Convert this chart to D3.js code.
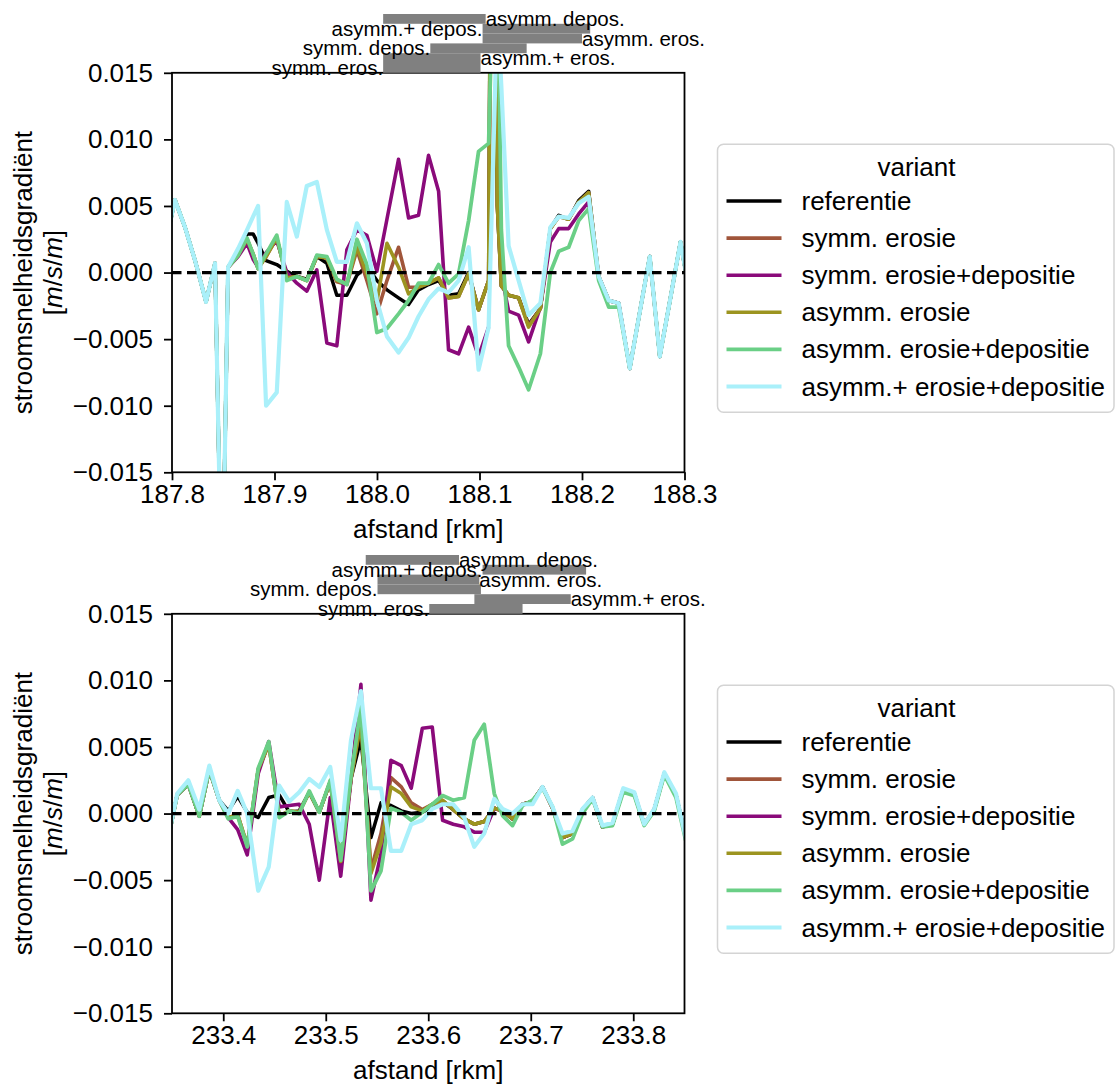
<!DOCTYPE html>
<html>
<head>
<meta charset="utf-8">
<script src="https://cdn.jsdelivr.net/npm/d3@7"></script>
<style>
  body { margin: 0; background: #ffffff; }
  svg text { font-family: "Liberation Sans", Arial, Helvetica, sans-serif; fill: #000; }
</style>
</head>
<body>
<svg id="chart" width="1120" height="1090"></svg>
<script>
// ---------------------------------------------------------------------------
// Variants (legend order = drawing order)
// ---------------------------------------------------------------------------
const variants = [
  "referentie",
  "symm. erosie",
  "symm. erosie+depositie",
  "asymm. erosie",
  "asymm. erosie+depositie",
  "asymm.+ erosie+depositie"
];
const variantColors = ["#000000", "#a0553a", "#8a0a7a", "#9c9420", "#6acf86", "#aaf0fa"];
const variantWidths = [3.5, 3.6, 3.6, 3.6, 3.8, 4.2];

// y axis (stroomsnelheidsgradiënt, m/s/m)
const yTicks = [-0.015, -0.010, -0.005, 0.000, 0.005, 0.010, 0.015];

// intervention zones drawn above each panel (bottom row first)
const zoneLabels = ["symm. eros.", "asymm.+ eros.", "symm. depos.", "asymm. eros.", "asymm.+ depos.", "asymm. depos."];
const zoneSides = ["left", "right", "left", "right", "left", "right"];

// ---------------------------------------------------------------------------
// Panel 1: rkm 187.8 - 188.3
// ---------------------------------------------------------------------------
const topTicks = [187.8, 187.9, 188.0, 188.1, 188.2, 188.3];
const topZoneStart = [188.006, 188.006, 188.052, 188.103, 188.103, 188.006];
const topZoneEnd   = [188.101, 188.101, 188.146, 188.200, 188.208, 188.106];

const topKm = [187.7932, 187.8029, 187.8127, 187.8225, 187.8332, 187.8420, 187.8488, 187.8547,
  187.8645, 187.8732, 187.8791, 187.8840, 187.8918, 187.9022, 187.9120, 187.9218, 187.9315,
  187.9413, 187.9511, 187.9608, 187.9706, 187.9804, 187.9901, 187.9999, 188.0097, 188.0210,
  188.0308, 188.0405, 188.0503, 188.0601, 188.0698, 188.0796, 188.0894, 188.0991, 188.1089,
  188.1125, 188.1174, 188.1213, 188.1284, 188.1382, 188.1479, 188.1594, 188.1691, 188.1773,
  188.1870, 188.1968, 188.2065, 188.2163, 188.2261, 188.2358, 188.2466, 188.2570, 188.2661,
  188.2759, 188.2863, 188.2961, 188.3059];

const topRef = [0.0020, 0.00545, 0.0034, 0.0009, -0.0022, 0.0007, -0.026, 0.0004,
  0.0015, 0.0029, 0.0029, 0.0022, 0.0009, 0.0006, 0.0001, -0.0003, -0.0005, 0.0012,
  0.0007, -0.0017, -0.0017, -0.0002, 0.0005, -0.0006, -0.0013, -0.0019, -0.0024, -0.0013,
  -0.0009, -0.0006, -0.0017, -0.0016, 0.0000, -0.0028, -0.0006, 0.050, 0.005, -0.0010,
  -0.0017, -0.0019, -0.0039, -0.0027, 0.0033, 0.0043, 0.0040, 0.0054, 0.0061,
  -0.0003, -0.0021, -0.0023, -0.0072, -0.0027, 0.0012, -0.0063, -0.0019, 0.0023, -0.0020];

const topSymEro = [0.0020, 0.00545, 0.0034, 0.0009, -0.0022, 0.0007, -0.026, 0.0004,
  0.0013, 0.0025, 0.0014, 0.0003, 0.0012, 0.0026, -0.0004, -0.0003, -0.0006, 0.0012,
  0.0011, -0.0007, -0.0009, 0.0017, -0.0006, -0.0031, -0.0006, 0.0019, -0.0011, -0.0011,
  -0.0008, -0.0004, -0.0019, -0.0018, -0.0001, -0.0028, -0.0006, 0.050, 0.005, -0.0010,
  -0.0017, -0.0019, -0.0040, -0.0027, 0.0033, 0.0042, 0.0040, 0.0053, 0.0060,
  -0.0003, -0.0021, -0.0023, -0.0072, -0.0027, 0.0012, -0.0063, -0.0019, 0.0023, -0.0020];

const topSymEroDep = [0.0020, 0.00545, 0.0034, 0.0009, -0.0022, 0.0007, -0.026, 0.0004,
  0.0012, 0.0022, 0.0010, 0.0004, 0.0015, 0.0024, 0.0000, -0.0008, -0.0014, 0.0002,
  -0.0053, -0.0055, 0.0017, 0.0032, 0.0028, 0.0001, 0.0040, 0.0085, 0.0041, 0.0043,
  0.0088, 0.0061, -0.0058, -0.0061, -0.0041, -0.0063, -0.0041, NaN, NaN, -0.0001,
  -0.0029, -0.0032, -0.0052, -0.0026, 0.0023, 0.0033, 0.0033, 0.0044, 0.0053,
  -0.0003, -0.0021, -0.0023, -0.0072, -0.0027, 0.0012, -0.0063, -0.0019, 0.0023, -0.0020];

const topAsymEro = [0.0020, 0.00545, 0.0034, 0.0009, -0.0022, 0.0007, -0.026, 0.0004,
  0.0013, 0.0025, 0.0014, 0.0003, 0.0012, 0.0026, -0.0004, -0.0003, -0.0006, 0.0012,
  0.0011, -0.0006, -0.0008, 0.0019, -0.0001, -0.0022, 0.0022, 0.0004, -0.0016, -0.0011,
  -0.0008, -0.0004, -0.0019, -0.0018, -0.0001, -0.0028, -0.0006, 0.050, 0.005, -0.0010,
  -0.0017, -0.0019, -0.0041, -0.0027, 0.0033, 0.0042, 0.0040, 0.0053, 0.0060,
  -0.0003, -0.0021, -0.0023, -0.0072, -0.0027, 0.0012, -0.0063, -0.0019, 0.0023, -0.0020];

const topAsymEroDep = [0.0020, 0.00545, 0.0034, 0.0009, -0.0022, 0.0007, -0.026, 0.0004,
  0.0013, 0.0026, 0.0014, 0.0003, 0.0014, 0.0028, -0.0006, -0.0003, -0.0006, 0.0013,
  0.0012, -0.0005, -0.0009, 0.0025, 0.0006, -0.0045, -0.0042, -0.0031, -0.0021, -0.0008,
  -0.0008, 0.0006, -0.0008, -0.0001, 0.0039, 0.0091, 0.0097, 0.020, 0.025, 0.0032,
  -0.0055, -0.0071, -0.0088, -0.0061, 0.0000, 0.0016, 0.0019, 0.0039, 0.0048,
  -0.0006, -0.0026, -0.0026, -0.0072, -0.0027, 0.0012, -0.0063, -0.0019, 0.0023, -0.0020];

const topAsymPlusEroDep = [0.0020, 0.00545, 0.0034, 0.0009, -0.0022, 0.0007, -0.026, 0.0004,
  0.0018, 0.0032, 0.0042, 0.0050, -0.0100, -0.0090, 0.0053, 0.0027, 0.0065, 0.0068,
  0.0032, 0.0008, 0.0008, 0.0037, 0.0022, -0.0021, -0.0048, -0.0060, -0.0049, -0.0033,
  -0.0020, -0.0012, -0.0015, -0.0006, 0.0019, -0.0073, -0.0041, 0.0061, 0.020, 0.014,
  0.0020, -0.0006, -0.0032, -0.0023, 0.0034, 0.0042, 0.0041, 0.0052, 0.0057,
  -0.0003, -0.0021, -0.0023, -0.0072, -0.0027, 0.0012, -0.0063, -0.0019, 0.0023, -0.0020];

// ---------------------------------------------------------------------------
// Panel 2: rkm 233.35 - 233.85
// ---------------------------------------------------------------------------
const bottomTicks = [233.4, 233.5, 233.6, 233.7, 233.8];
const bottomZoneStart = [233.601, 233.645, 233.5505, 233.5505, 233.653, 233.539];
const bottomZoneEnd   = [233.692, 233.739, 233.6514, 233.6498, 233.754, 233.630];

const bottomKm = [233.3454, 233.3551, 233.3659, 233.3766, 233.3864, 233.3961,
  233.4049, 233.4141, 233.4234, 233.4341, 233.4444, 233.4546, 233.4644, 233.4741, 233.4839,
  233.4937, 233.5044, 233.5146, 233.5246, 233.5343, 233.5441, 233.5539, 233.5636, 233.5737,
  233.5834, 233.5942, 233.6039, 233.6140, 233.6244, 233.6351, 233.6449, 233.6546, 233.6644,
  233.6725, 233.6822, 233.6920, 233.7018, 233.7115, 233.7213, 233.7310, 233.7408, 233.7505,
  233.7603, 233.7700, 233.7798, 233.7902, 233.8010, 233.8107, 233.8205, 233.8303, 233.8417,
  233.8517];

const bottomRef = [-0.0022, 0.0014, 0.0022, -0.0002, 0.0033, 0.0010,
  0.0002, 0.0013, 0.0001, -0.0003, 0.0012, 0.0014, 0.0001, 0.0002, 0.0016, 0.0001,
  0.0024, -0.0036, 0.0026, 0.0056, -0.0018, 0.0008, 0.0006, 0.0002, 0.0000, 0.0001,
  0.0005, 0.0009, 0.0003, -0.0004, -0.0008, -0.0006, 0.0004,
  0.0002, -0.0004, 0.0007, 0.0009, 0.0020, 0.0004, -0.0018, -0.0015, 0.0003, 0.0012,
  -0.0010, -0.0008, 0.0018, 0.0015, -0.0008, 0.0003, 0.0030, 0.0014, -0.0020];

const bottomSymEro = [-0.0022, 0.0014, 0.0022, -0.0002, 0.0033, 0.0010,
  -0.0003, -0.0001, -0.0024, 0.0033, 0.0052, -0.0002, 0.0002, 0.0001, 0.0016, 0.0001,
  0.0024, -0.0036, 0.0026, 0.0070, -0.0042, -0.0015, 0.0027, 0.0020, 0.0008, 0.0003,
  0.0007, 0.0010, 0.0003, -0.0004, -0.0008, -0.0006, 0.0004,
  0.0002, -0.0004, 0.0007, 0.0009, 0.0020, 0.0004, -0.0018, -0.0015, 0.0003, 0.0012,
  -0.0010, -0.0008, 0.0018, 0.0015, -0.0008, 0.0003, 0.0030, 0.0014, -0.0020];

const bottomSymEroDep = [-0.0022, 0.0014, 0.0022, -0.0002, 0.0033, 0.0010,
  -0.0003, -0.0012, -0.0031, 0.0030, 0.0054, 0.0005, 0.0006, 0.0007, -0.0008, -0.0050,
  0.0012, -0.0047, 0.0025, 0.0097, -0.0065, -0.0030, 0.0040, 0.0036, 0.0019, 0.0064,
  0.0065, -0.0005, -0.0008, -0.0010, -0.0014, -0.0014, 0.0004,
  0.0002, -0.0004, 0.0007, 0.0009, 0.0020, 0.0004, -0.0018, -0.0015, 0.0003, 0.0012,
  -0.0010, -0.0008, 0.0018, 0.0015, -0.0008, 0.0003, 0.0030, 0.0014, -0.0020];

const bottomAsymEro = [-0.0022, 0.0014, 0.0022, -0.0002, 0.0033, 0.0010,
  -0.0003, -0.0001, -0.0024, 0.0033, 0.0052, -0.0002, 0.0002, 0.0001, 0.0016, 0.0001,
  0.0024, -0.0036, 0.0026, 0.0068, -0.0045, -0.0022, 0.0020, 0.0015, 0.0005, 0.0002,
  0.0007, 0.0010, 0.0003, -0.0004, -0.0008, -0.0006, 0.0004,
  0.0002, -0.0004, 0.0007, 0.0009, 0.0020, 0.0004, -0.0018, -0.0015, 0.0003, 0.0012,
  -0.0010, -0.0008, 0.0018, 0.0015, -0.0008, 0.0003, 0.0030, 0.0014, -0.0020];

const bottomAsymEroDep = [-0.0022, 0.0014, 0.0022, -0.0002, 0.0033, 0.0010,
  -0.0004, -0.0002, -0.0025, 0.0034, 0.0054, -0.0003, 0.0002, 0.0000, 0.0017, 0.0001,
  0.0025, -0.0035, 0.0028, 0.0080, -0.0058, -0.0043, 0.0004, 0.0001, -0.0005, 0.0001,
  0.0007, 0.00135, 0.0010, 0.0012, 0.0055, 0.0067, 0.0015,
  -0.00015, -0.0009, 0.0006, 0.0010, 0.0019, 0.0005, -0.0023, -0.0019, 0.0000, 0.0011,
  -0.0010, -0.0009, 0.0016, 0.00135, -0.0009, 0.0002, 0.0029, 0.0012, -0.0022];

const bottomAsymPlusEroDep = [-0.0022, 0.0015, 0.0025, 0.0003, 0.0036, 0.0010,
  0.0000, 0.0017, 0.0000, -0.0058, -0.0040, 0.0021, 0.0009, 0.0016, 0.0026, 0.0020,
  0.0035, -0.0020, 0.0055, 0.0092, 0.0019, 0.0019, -0.0028, -0.0028, -0.0008, -0.0005,
  0.00035, 0.0007, 0.0007, -0.0003, -0.0025, -0.0015, 0.0011,
  0.00035, 0.0000, 0.0007, 0.0007, 0.0020, 0.0005, -0.0015, -0.0013, 0.00035, 0.0012,
  -0.0009, -0.0007, 0.0019, 0.0016, -0.0008, 0.00035, 0.0031, 0.0015, -0.0020];

// ---------------------------------------------------------------------------
// Layout
// ---------------------------------------------------------------------------
const svg = d3.select("#chart");
const LEFT = 172, W = 512.5, H = 399.5;
const FONT = 26;

const panels = [
  {
    id: "p1", top: 72.8, domain: [187.8, 188.3], ticks: topTicks, km: topKm,
    series: [topRef, topSymEro, topSymEroDep, topAsymEro, topAsymEroDep, topAsymPlusEroDep],
    zStart: topZoneStart, zEnd: topZoneEnd
  },
  {
    id: "p2", top: 613.8, domain: [233.35, 233.85], ticks: bottomTicks, km: bottomKm,
    series: [bottomRef, bottomSymEro, bottomSymEroDep, bottomAsymEro, bottomAsymEroDep, bottomAsymPlusEroDep],
    zStart: bottomZoneStart, zEnd: bottomZoneEnd
  }
];

function drawPanel(p) {
  const x = d3.scaleLinear().domain(p.domain).range([0, W]);
  const y = d3.scaleLinear().domain([yTicks[0], yTicks[yTicks.length - 1]]).range([H, 0]);
  const g = svg.append("g").attr("transform", `translate(${LEFT},${p.top})`);

  const clipId = "clip-" + p.id;
  g.append("clipPath").attr("id", clipId)
    .append("rect").attr("width", W).attr("height", H);
  const plot = g.append("g").attr("clip-path", `url(#${clipId})`);

  const line = d3.line()
    .defined(d => Number.isFinite(d[1]))
    .x(d => x(d[0]))
    .y(d => y(d[1]));

  p.series.forEach((vals, i) => {
    plot.append("path")
      .datum(p.km.map((k, j) => [k, vals[j]]))
      .attr("fill", "none")
      .attr("stroke", variantColors[i])
      .attr("stroke-width", variantWidths[i])
      .attr("stroke-linejoin", "round")
      .attr("d", line);
  });

  // zero reference
  plot.append("line")
    .attr("x1", 0).attr("x2", W)
    .attr("y1", y(0)).attr("y2", y(0))
    .attr("stroke", "#000").attr("stroke-width", 3.2)
    .attr("stroke-dasharray", "9.5,5.5");

  // axes
  const xAxis = d3.axisBottom(x).tickValues(p.ticks)
    .tickFormat(d3.format(".1f")).tickSize(8).tickPadding(4.5);
  const gx = g.append("g").attr("transform", `translate(0,${H})`).call(xAxis);
  const yAxis = d3.axisLeft(y).tickValues(yTicks)
    .tickFormat(d3.format(".3f")).tickSize(8).tickPadding(11);
  const gy = g.append("g").call(yAxis);
  [gx, gy].forEach(a => {
    a.select(".domain").remove();
    a.selectAll(".tick line").attr("stroke", "#000").attr("stroke-width", 1.8);
    a.selectAll(".tick text").style("font-size", FONT + "px")
      .style("font-family", '"Liberation Sans", Arial, sans-serif').attr("fill", "#000");
  });

  // frame
  g.append("rect").attr("width", W).attr("height", H)
    .attr("fill", "none").attr("stroke", "#000").attr("stroke-width", 1.8);

  // axis titles
  g.append("text")
    .attr("x", W / 2).attr("y", H + 66)
    .attr("text-anchor", "middle")
    .style("font-size", FONT + "px")
    .text("afstand [rkm]");

  const cy = H / 2;
  g.append("text")
    .attr("transform", `translate(${23 - LEFT},${cy}) rotate(-90)`)
    .attr("text-anchor", "middle").attr("dy", "0.35em")
    .style("font-size", FONT + "px")
    .text("stroomsnelheidsgradiënt");
  const unit = g.append("text")
    .attr("transform", `translate(${53 - LEFT},${cy}) rotate(-90)`)
    .attr("text-anchor", "middle").attr("dy", "0.35em")
    .style("font-size", FONT + "px");
  [["[", false], ["m", true], ["/", false], ["s", true], ["/", false], ["m", true], ["]", false]]
    .forEach(([t, it]) => unit.append("tspan").style("font-style", it ? "italic" : "normal").text(t));

  // intervention zones above the panel
  const rowH = 9.8;
  const zones = g.append("g");
  zoneLabels.forEach((lab, r) => {
    zones.append("rect")
      .attr("x", x(p.zStart[r])).attr("y", -rowH * (r + 1))
      .attr("width", x(p.zEnd[r]) - x(p.zStart[r])).attr("height", rowH)
      .attr("fill", "#808080");
  });
  zoneLabels.forEach((lab, r) => {
    const left = zoneSides[r] === "left";
    zones.append("text")
      .attr("x", left ? x(p.zStart[r]) : x(p.zEnd[r]))
      .attr("y", -rowH * (r + 1) + rowH / 2)
      .attr("dy", "0.35em")
      .attr("text-anchor", left ? "end" : "start")
      .style("font-size", "20.5px")
      .text(lab);
  });

  // legend
  const lg = svg.append("g").attr("transform", `translate(717.5,${p.top + 71.5})`);
  lg.append("rect").attr("width", 396.5).attr("height", 268).attr("rx", 6)
    .attr("fill", "#fff").attr("stroke", "#d4d4d4").attr("stroke-width", 1.5);
  lg.append("text").attr("x", 199).attr("y", 22.5).attr("dy", "0.35em")
    .attr("text-anchor", "middle").style("font-size", FONT + "px").text("variant");
  variants.forEach((v, i) => {
    const yy = 56.7 + i * 37.1;
    lg.append("line").attr("x1", 9).attr("x2", 64).attr("y1", yy).attr("y2", yy)
      .attr("stroke", variantColors[i]).attr("stroke-width", variantWidths[i]);
    lg.append("text").attr("x", 84).attr("y", yy).attr("dy", "0.35em")
      .style("font-size", FONT + "px").text(v);
  });
}

panels.forEach(drawPanel);
</script>
</body>
</html>
